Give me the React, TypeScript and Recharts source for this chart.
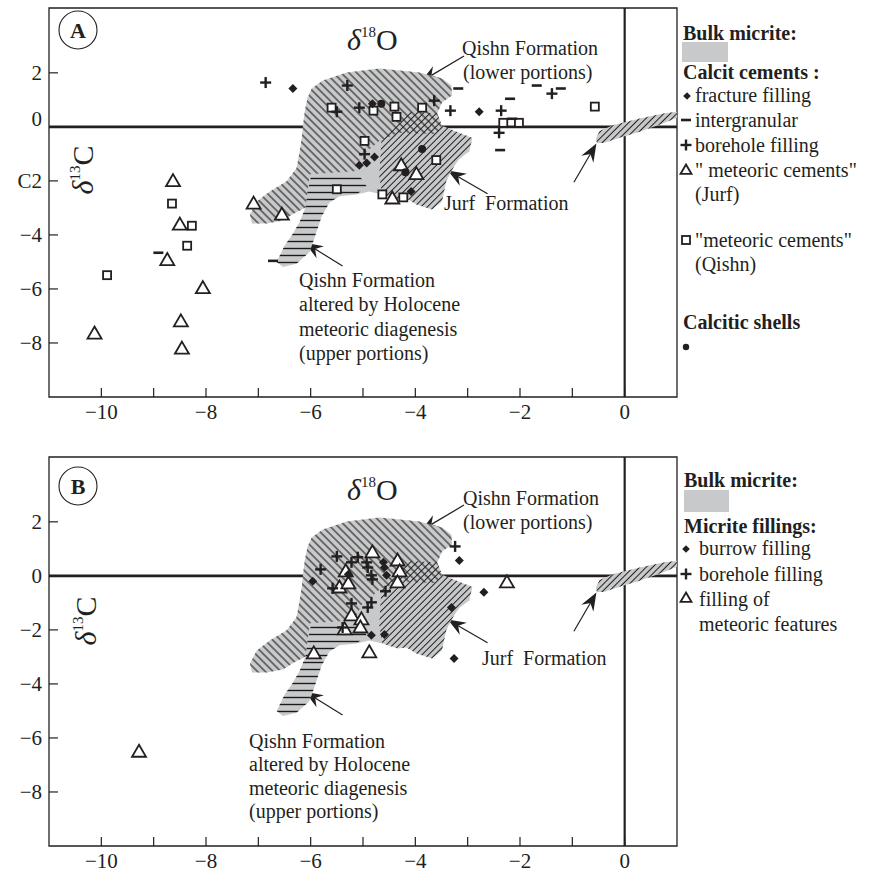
import React from "react";
import { ScatterChart, Scatter, XAxis, YAxis, ReferenceLine, ReferenceArea } from "recharts";

type Pt = { x: number; y: number };

const FONT = "'Liberation Serif', 'Times New Roman', serif";
const INK = "#231f20";
const MICRITE = "#c8c9cb";

const xTicks = [-10, -9, -8, -7, -6, -5, -4, -3, -2, -1, 0];
const yTicks = [2, 0, -2, -4, -6, -8];

const p = (x: number, y: number): Pt => ({ x, y });

// bulk micrite field (outline of all fields together)
const bulkMicrite: Pt[] = [
  p(-6.06, 1.08), p(-5.98, 1.42), p(-5.77, 1.72), p(-5.31, 2.01), p(-4.69, 2.16), p(-3.92, 2.01),
  p(-3.49, 1.79), p(-3.31, 1.53), p(-3.3, 1.16), p(-3.49, 0.9), p(-3.58, 0.49), p(-3.49, 0.04),
  p(-3.16, -0.22), p(-2.91, -0.41), p(-2.97, -0.9), p(-3.16, -1.19), p(-3.26, -1.46), p(-3.41, -2.01),
  p(-3.49, -2.76), p(-3.68, -3.06), p(-3.98, -2.87), p(-4.17, -2.65), p(-4.34, -2.69), p(-4.63, -2.5),
  p(-4.88, -2.39), p(-5.12, -2.5), p(-5.45, -2.57), p(-5.64, -2.8), p(-5.79, -3.32), p(-5.92, -4.07),
  p(-6.02, -4.63), p(-6.27, -5.07), p(-6.53, -5.19), p(-6.65, -5.0), p(-6.5, -4.4), p(-6.34, -3.96),
  p(-6.21, -3.51), p(-6.1, -2.99), p(-6.32, -3.21), p(-6.53, -3.47), p(-6.84, -3.58), p(-7.12, -3.58),
  p(-7.16, -3.25), p(-7.03, -2.76), p(-6.78, -2.39), p(-6.46, -2.01), p(-6.27, -1.53), p(-6.21, -0.9),
  p(-6.17, -0.41), p(-6.15, 0), p(-6.11, 0.6),
];

// Qishn Formation, lower portions (\\\ hatch)
const qishnLower: Pt[] = [
  p(-6.06, 1.08), p(-5.98, 1.42), p(-5.77, 1.72), p(-5.31, 2.01), p(-4.69, 2.16), p(-3.92, 2.01),
  p(-3.49, 1.79), p(-3.31, 1.53), p(-3.3, 1.16), p(-3.49, 0.9), p(-3.58, 0.49), p(-3.49, 0.04),
  p(-3.6, -0.26), p(-4.32, -0.22), p(-4.69, -0.52), p(-5.03, -1.08), p(-5.16, -1.64), p(-6.02, -1.75),
  p(-6.1, -2.99), p(-6.32, -3.21), p(-6.53, -3.47), p(-6.84, -3.58), p(-7.12, -3.58), p(-7.16, -3.25),
  p(-7.03, -2.76), p(-6.78, -2.39), p(-6.46, -2.01), p(-6.27, -1.53), p(-6.21, -0.9), p(-6.17, -0.41),
  p(-6.15, 0), p(-6.11, 0.6),
];

// Jurf Formation (/// hatch)
const jurf: Pt[] = [
  p(-4.11, 0.56), p(-3.58, 0.49), p(-3.49, 0.04), p(-3.16, -0.22), p(-2.91, -0.41), p(-2.97, -0.9),
  p(-3.16, -1.19), p(-3.26, -1.46), p(-3.41, -2.01), p(-3.49, -2.76), p(-3.68, -3.06), p(-3.98, -2.87),
  p(-4.17, -2.65), p(-4.34, -2.69), p(-4.63, -2.5), p(-4.69, -1.83), p(-4.65, -0.52),
];

// Qishn altered by Holocene meteoric diagenesis (horizontal hatch)
const qishnAltered: Pt[] = [
  p(-5.98, -1.72), p(-5.1, -1.72), p(-4.93, -2.2), p(-5.12, -2.5), p(-5.45, -2.57), p(-5.64, -2.8),
  p(-5.79, -3.32), p(-5.92, -4.07), p(-6.02, -4.63), p(-6.27, -5.07), p(-6.53, -5.19), p(-6.65, -5.0),
  p(-6.5, -4.4), p(-6.34, -3.96), p(-6.21, -3.51), p(-6.1, -2.99), p(-6.06, -2.39),
];

// small field around the origin
const nearZero: Pt[] = [
  p(-0.55, -0.45), p(-0.48, -0.15), p(-0.21, 0.07), p(0.27, 0.3), p(0.74, 0.49), p(1.0, 0.56),
  p(1.0, 0.34), p(0.65, 0.07), p(0.27, -0.19), p(-0.11, -0.41), p(-0.4, -0.6), p(-0.53, -0.6),
];

// panel A: calcite cements
const aFracture: Pt[] = [
  p(-6.34, 1.42), p(-4.82, 0.86), p(-2.78, 0.56), p(-5.07, -1.42), p(-4.93, -1.34), p(-4.78, -1.12), p(-4.08, -2.39),
];
const aIntergranular: Pt[] = [
  p(-3.18, 1.42), p(-2.19, 1.04), p(-1.68, 1.53), p(-1.22, 1.42), p(-2.15, 0.3), p(-2.38, -0.86),
  p(-8.91, -4.66), p(-6.72, -4.96),
];
const aBorehole: Pt[] = [
  p(-6.86, 1.64), p(-5.5, 0.56), p(-5.3, 1.53), p(-5.07, 0.71), p(-3.64, 0.97), p(-3.33, 0.6),
  p(-2.36, 0.6), p(-2.4, -0.22), p(-1.39, 1.23), p(-4.97, -1.01),
];
const aMeteoricJurf: Pt[] = [
  p(-4.27, -1.42), p(-3.98, -1.75), p(-4.44, -2.65), p(-7.09, -2.84), p(-6.55, -3.25), p(-8.63, -2.01),
  p(-8.5, -3.62), p(-8.74, -4.93), p(-8.06, -5.97), p(-8.48, -7.2), p(-10.13, -7.65), p(-8.46, -8.21),
];
const aMeteoricQishn: Pt[] = [
  p(-5.6, 0.71), p(-4.8, 0.6), p(-4.4, 0.75), p(-4.36, 0.37), p(-3.87, 0.71), p(-2.32, 0.15),
  p(-2.02, 0.15), p(-0.57, 0.75), p(-4.97, -0.52), p(-3.6, -1.23), p(-5.5, -2.31), p(-4.63, -2.5),
  p(-4.23, -2.61), p(-8.65, -2.84), p(-8.27, -3.66), p(-8.36, -4.4), p(-9.89, -5.49),
];
const aShells: Pt[] = [p(-4.65, 0.86), p(-3.87, -0.82), p(-4.19, -1.68)];

// panel B: micrite fillings
const bBurrow: Pt[] = [
  p(-5.96, -0.2), p(-4.59, 0.31), p(-4.55, 0.02), p(-4.61, 0.5), p(-5.28, 0.06), p(-4.84, -2.2),
  p(-4.59, -2.17), p(-3.16, 0.57), p(-2.69, -0.61), p(-3.31, -1.17), p(-3.26, -3.06),
];
const bBorehole: Pt[] = [
  p(-5.81, 0.24), p(-5.5, 0.72), p(-5.22, 0.5), p(-5.1, 0.69), p(-4.93, 0.5), p(-4.91, 0.31),
  p(-4.84, 0.02), p(-4.82, -0.13), p(-5.58, -0.46), p(-4.57, -0.57), p(-5.22, -1.02), p(-4.84, -0.98),
  p(-4.91, -1.17), p(-5.39, -1.91), p(-3.24, 1.09),
];
const bMeteoric: Pt[] = [
  p(-4.82, 0.87), p(-4.34, 0.57), p(-4.3, 0.17), p(-4.34, -0.24), p(-5.33, 0.17), p(-5.45, -0.43),
  p(-5.28, -0.28), p(-5.22, -1.46), p(-5.03, -1.61), p(-5.05, -1.91), p(-5.35, -1.98), p(-5.94, -2.87),
  p(-4.88, -2.83), p(-2.25, -0.24), p(-9.28, -6.51),
];

// arrows pointing at the fields (tail -> tip, data units)
const arrows = [
  { x1: -3.07, y1: 2.62, x2: -3.89, y2: 1.68 },
  { x1: -2.62, y1: -2.48, x2: -3.38, y2: -1.62 },
  { x1: -0.97, y1: -2.05, x2: -0.54, y2: -0.62 },
  { x1: -5.39, y1: -5.15, x2: -6.11, y2: -4.29 },
];

const fmt = (v: number) => (v < 0 ? "\u2212" + Math.abs(v) : String(v));

const Diamond = ({ cx, cy, s = 4.5 }: any) => (
  <polygon points={`${cx},${cy - s} ${cx + s},${cy} ${cx},${cy + s} ${cx - s},${cy}`} fill={INK} />
);
const Dash = ({ cx, cy }: any) => <line x1={cx - 5} x2={cx + 5} y1={cy} y2={cy} stroke={INK} strokeWidth={2.6} />;
const Plus = ({ cx, cy }: any) => (
  <g stroke={INK} strokeWidth={2.4}>
    <line x1={cx - 5.5} x2={cx + 5.5} y1={cy} y2={cy} />
    <line x1={cx} x2={cx} y1={cy - 5.5} y2={cy + 5.5} />
  </g>
);
const Tri = ({ cx, cy, s = 7 }: any) => (
  <polygon
    points={`${cx},${cy - s} ${cx + s},${cy + s * 0.72} ${cx - s},${cy + s * 0.72}`}
    fill="#fff"
    stroke={INK}
    strokeWidth={1.8}
    strokeLinejoin="miter"
  />
);
const Sq = ({ cx, cy }: any) => (
  <rect x={cx - 4} y={cy - 4} width={8} height={8} fill="#fff" stroke={INK} strokeWidth={1.8} />
);
const Dot = ({ cx, cy }: any) => <circle cx={cx} cy={cy} r={4} fill={INK} />;
const Nothing = () => <g />;

const ArrowShape = (props: any) => {
  const { x1, y1, x2, y2 } = props;
  const dx = x2 - x1;
  const dy = y2 - y1;
  const len = Math.sqrt(dx * dx + dy * dy);
  const ux = dx / len;
  const uy = dy / len;
  const L = 18;
  const W = 7;
  const bx = x2 - ux * L;
  const by = y2 - uy * L;
  const nx = x2 - ux * (L - 6);
  const ny = y2 - uy * (L - 6);
  return (
    <g>
      <line x1={x1} y1={y1} x2={nx} y2={ny} stroke={INK} strokeWidth={1.2} />
      <polygon
        points={`${x2},${y2} ${bx - uy * W},${by + ux * W} ${nx},${ny} ${bx + uy * W},${by - ux * W}`}
        fill={INK}
      />
    </g>
  );
};

const XTick = (props: any) => {
  const v = props.payload.value;
  const { x, y } = props;
  return (
    <g>
      <line x1={x} x2={x} y1={y} y2={y - 9} stroke={INK} strokeWidth={1.2} />
      {v % 2 === 0 && (
        <text x={x} y={y + 22} textAnchor="middle" fontSize={21} fill={INK} fontFamily={FONT}>
          {fmt(v)}
        </text>
      )}
    </g>
  );
};

const makeYTick = (panelA: boolean) => (props: any) => {
  const v = props.payload.value;
  const { x, y } = props;
  const label = panelA && v === -2 ? "C2" : fmt(v);
  const dy = panelA && v === 0 ? -8 : 0;
  return (
    <g>
      <line x1={x} x2={x + 9} y1={y} y2={y} stroke={INK} strokeWidth={1.2} />
      <text x={x - 7} y={y + 7 + dy} textAnchor="end" fontSize={21} fill={INK} fontFamily={FONT}>
        {label}
      </text>
    </g>
  );
};

const area = (key: string, data: Pt[], fill: string) => (
  <Scatter
    key={key}
    data={data}
    shape={Nothing}
    line={{ fill, stroke: "none" }}
    lineJointType="linearClosed"
    isAnimationActive={false}
  />
);

const fields = (k: string) => [
  area(k + "bulk", bulkMicrite, MICRITE),
  area(k + "zero", nearZero, MICRITE),
  area(k + "q", qishnLower, "url(#hatchBack)"),
  area(k + "j", jurf, "url(#hatchFwd)"),
  area(k + "h", qishnAltered, "url(#hatchHoriz)"),
  area(k + "zh", nearZero, "url(#hatchFwd)"),
];

const frame = (k: string) => [
  <ReferenceArea key={k + "frame"} x1={-11} x2={1} y1={-10} y2={4.4} fill="none" stroke={INK} strokeWidth={1.3} />,
  <ReferenceLine key={k + "y0"} y={0} stroke={INK} strokeWidth={2.6} />,
  <ReferenceLine key={k + "x0"} x={0} stroke={INK} strokeWidth={2.2} />,
  ...arrows.map((a, i) => (
    <ReferenceLine
      key={k + "arr" + i}
      segment={[{ x: a.x1, y: a.y1 }, { x: a.x2, y: a.y2 }]}
      shape={ArrowShape}
    />
  )),
];

const axes = (panelA: boolean, xHeight: number) => [
  <XAxis
    key="x"
    type="number"
    dataKey="x"
    domain={[-11, 1]}
    ticks={xTicks}
    allowDataOverflow
    axisLine={false}
    tickLine={false}
    tickSize={0}
    tickMargin={0}
    height={xHeight}
    tick={XTick}
    interval={0}
  />,
  <YAxis
    key="y"
    type="number"
    dataKey="y"
    domain={[-10, 4.4]}
    ticks={yTicks}
    allowDataOverflow
    axisLine={false}
    tickLine={false}
    tickSize={0}
    tickMargin={0}
    width={49}
    tick={makeYTick(panelA)}
    interval={0}
  />,
];

const T = ({ x, y, children, bold = false, size = 20 }: any) => (
  <text x={x} y={y} fontSize={size} fontWeight={bold ? "bold" : "normal"} fill={INK} fontFamily={FONT}>
    {children}
  </text>
);

const Delta = ({ x, y, sup, letter, rotate }: any) => (
  <text
    x={x}
    y={y}
    fill={INK}
    fontFamily={FONT}
    textAnchor={rotate ? "middle" : "start"}
    transform={rotate ? `rotate(-90 ${x} ${y})` : undefined}
  >
    <tspan fontStyle="italic" fontSize={30}>δ</tspan>
    <tspan fontSize={15} dy={-13}>{sup}</tspan>
    <tspan fontSize={30} dy={13}>{letter}</tspan>
  </text>
);

const Circled = ({ cx, cy, letter }: any) => (
  <g>
    <circle cx={cx} cy={cy} r={19} fill="none" stroke={INK} strokeWidth={1.1} />
    <text x={cx} y={cy + 7.5} textAnchor="middle" fontSize={22} fontWeight="bold" fill={INK} fontFamily={FONT}>
      {letter}
    </text>
  </g>
);

export default function App() {
  return (
    <div style={{ position: "absolute", left: 0, top: 0, width: 870, height: 872, background: "#fff", overflow: "hidden" }}>
      <svg width={0} height={0} style={{ position: "absolute" }}>
        <defs>
          <pattern id="hatchBack" patternUnits="userSpaceOnUse" width={5.5} height={5.5} patternTransform="rotate(-45)">
            <line x1={2.75} y1={0} x2={2.75} y2={5.5} stroke="#1a1a1a" strokeWidth={1.05} />
          </pattern>
          <pattern id="hatchFwd" patternUnits="userSpaceOnUse" width={4.6} height={4.6} patternTransform="rotate(45)">
            <line x1={2.3} y1={0} x2={2.3} y2={4.6} stroke="#1a1a1a" strokeWidth={1.0} />
          </pattern>
          <pattern id="hatchHoriz" patternUnits="userSpaceOnUse" width={10} height={7}>
            <line x1={0} y1={3.5} x2={10} y2={3.5} stroke="#1a1a1a" strokeWidth={1.4} />
          </pattern>
        </defs>
      </svg>

      <div style={{ position: "absolute", left: 0, top: 0 }}>
        <ScatterChart width={680} height={440} margin={{ top: 8, right: 3, bottom: 0, left: 0 }}>
          {axes(true, 43)}
          {fields("a")}
          {frame("a")}
          <Scatter data={aMeteoricQishn} shape={Sq} isAnimationActive={false} />
          <Scatter data={aMeteoricJurf} shape={Tri} isAnimationActive={false} />
          <Scatter data={aIntergranular} shape={Dash} isAnimationActive={false} />
          <Scatter data={aBorehole} shape={Plus} isAnimationActive={false} />
          <Scatter data={aFracture} shape={Diamond} isAnimationActive={false} />
          <Scatter data={aShells} shape={Dot} isAnimationActive={false} />
        </ScatterChart>
      </div>

      <div style={{ position: "absolute", left: 0, top: 449 }}>
        <ScatterChart width={680} height={423} margin={{ top: 8, right: 3, bottom: 0, left: 0 }}>
          {axes(false, 26)}
          {fields("b")}
          {frame("b")}
          <Scatter data={bMeteoric} shape={Tri} isAnimationActive={false} />
          <Scatter data={bBorehole} shape={Plus} isAnimationActive={false} />
          <Scatter data={bBurrow} shape={Diamond} isAnimationActive={false} />
        </ScatterChart>
      </div>

      <svg width={870} height={872} style={{ position: "absolute", left: 0, top: 0, pointerEvents: "none" }}>
        {/* panel A annotations */}
        <Circled cx={78} cy={30} letter="A" />
        <Delta x={347} y={50} sup="18" letter="O" />
        <Delta x={93} y={170} sup="13" letter="C" rotate />
        <T x={462} y={55}>Qishn Formation</T>
        <T x={463} y={79}>(lower portions)</T>
        <T x={444} y={210}>Jurf{"\u00a0\u00a0"}Formation</T>
        <T x={299} y={287}>Qishn Formation</T>
        <T x={299} y={311}>altered by Holocene</T>
        <T x={299} y={336}>meteoric diagenesis</T>
        <T x={299} y={360}>(upper portions)</T>

        {/* panel A legend */}
        <T x={683} y={40} bold>Bulk micrite:</T>
        <rect x={682} y={42} width={46} height={20} fill={MICRITE} />
        <T x={683} y={79} bold>Calcit cements :</T>
        <Diamond cx={687} cy={96} s={3.8} />
        <T x={695} y={102}>fracture filling</T>
        <Dash cx={686} cy={120} />
        <T x={695} y={127}>intergranular</T>
        <Plus cx={686} cy={145} />
        <T x={695} y={152}>borehole filling</T>
        <Tri cx={686} cy={170} s={5.5} />
        <T x={695} y={177}>" meteoric cements"</T>
        <T x={695} y={201}>(Jurf)</T>
        <Sq cx={686} cy={240} />
        <T x={695} y={247}>"meteoric cements"</T>
        <T x={695} y={271}>(Qishn)</T>
        <T x={683} y={329} bold>Calcitic shells</T>
        <circle cx={686} cy={347} r={3.2} fill={INK} />

        {/* panel B annotations */}
        <Circled cx={78} cy={486} letter="B" />
        <Delta x={347} y={500} sup="18" letter="O" />
        <Delta x={96} y={621} sup="13" letter="C" rotate />
        <T x={463} y={505}>Qishn Formation</T>
        <T x={463} y={529}>(lower portions)</T>
        <T x={482} y={665}>Jurf{"\u00a0\u00a0"}Formation</T>
        <T x={249} y={748}>Qishn Formation</T>
        <T x={249} y={771}>altered by Holocene</T>
        <T x={249} y={795}>meteoric diagenesis</T>
        <T x={249} y={818}>(upper portions)</T>

        {/* panel B legend */}
        <T x={684} y={487} bold>Bulk micrite:</T>
        <rect x={684} y={490} width={45} height={22} fill={MICRITE} />
        <T x={684} y={533} bold>Micrite fillings:</T>
        <Diamond cx={686} cy={549} s={3.8} />
        <T x={699} y={555}>burrow filling</T>
        <Plus cx={686} cy={574} />
        <T x={699} y={581}>borehole filling</T>
        <Tri cx={686} cy={598} s={5.5} />
        <T x={699} y={606}>filling of</T>
        <T x={699} y={631}>meteoric features</T>
      </svg>
    </div>
  );
}
